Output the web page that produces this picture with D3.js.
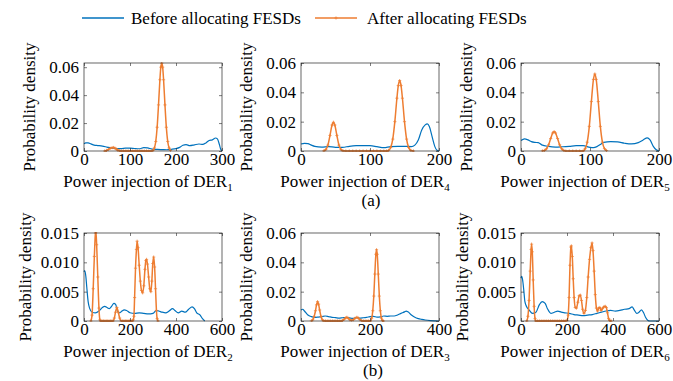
<!DOCTYPE html>
<html lang="en">
<head>
<meta charset="UTF-8">
<title>FESD density</title>
<script src="https://cdn.jsdelivr.net/npm/d3@7"></script>
<style>
body{margin:0;background:#fff;}
svg text{font-family:"Liberation Serif","Times New Roman",serif;}
</style>
</head>
<body>
<div id="root"></div>
<script>
// ---- data: [power injection, probability density] ----
let before1=[[0,0.0052],[4,0.0058],[9,0.0058],[15,0.0051],[22,0.0042],[30,0.0039],[40,0.0035],[50,0.0028],[60,0.0021],[70,0.0017],[80,0.0017],[90,0.0020],[100,0.0021],[110,0.0018],[120,0.0016],[130,0.0024],[138,0.0022],[148,0.0014],[160,0.0011],[170,0.0010],[180,0.0009],[190,0.0012],[200,0.0017],[208,0.0026],[215,0.0041],[222,0.0046],[230,0.0038],[240,0.0044],[250,0.0050],[258,0.0047],[265,0.0058],[272,0.0075],[279,0.0080],[286,0.0093],[290,0.0087],[294,0.0050],[297,0.0015],[300,0]]
let after1=[[45,0],[49,0.0004],[53,0.0011],[57,0.0019],[61,0.0024],[64,0.0025],[67,0.0021],[70,0.0014],[73,0.0007],[77,0.0002],[81,0],[86,0],[91,0],[96,0],[101,0],[106,0],[111,0],[116,0],[121,0],[126,0],[131,0],[136,0],[141,0],[146,0],[150,0.0005],[153,0.0022],[156,0.0068],[159,0.0170],[162,0.0330],[165,0.0510],[167,0.0600],[169,0.0628],[171,0.0600],[173,0.0510],[176,0.0330],[179,0.0170],[182,0.0068],[185,0.0022],[188,0.0005]]

let before4=[[0,0.0048],[5,0.0052],[10,0.0050],[15,0.0040],[20,0.0032],[30,0.0027],[40,0.0030],[50,0.0025],[60,0.0025],[70,0.0032],[80,0.0036],[90,0.0037],[100,0.0036],[110,0.0030],[120,0.0023],[130,0.0030],[140,0.0032],[150,0.0032],[160,0.0030],[165,0.0040],[170,0.0075],[175,0.0144],[180,0.0178],[183,0.0185],[186,0.0167],[190,0.0098],[194,0.0030],[197,0.0005],[200,0]]
let after4=[[33,0.0001],[36,0.0010],[39,0.0040],[42,0.0106],[45,0.0177],[47,0.0196],[49,0.0177],[52,0.0106],[55,0.0040],[58,0.0010],[61,0.0001],[65,0],[70,0],[75,0],[80,0],[85,0],[90,0],[95,0],[100,0],[105,0],[110,0],[115,0],[120,0],[124,0],[127,0.0005],[130,0.0024],[133,0.0081],[136,0.0200],[139,0.0360],[141,0.0446],[143,0.0480],[145,0.0446],[147,0.0360],[150,0.0200],[153,0.0081],[156,0.0024],[159,0.0005],[163,0]]

let before5=[[0,0.0071],[5,0.0082],[10,0.0076],[15,0.0064],[20,0.0059],[25,0.0057],[30,0.0042],[40,0.0031],[50,0.0027],[60,0.0029],[70,0.0032],[80,0.0036],[90,0.0036],[100,0.0025],[105,0.0023],[110,0.0030],[115,0.0045],[120,0.0059],[130,0.0064],[140,0.0062],[150,0.0053],[160,0.0048],[170,0.0057],[177,0.0075],[183,0.0090],[187,0.0076],[192,0.0030],[196,0.0008],[200,0]]
let after5=[[31,0.0001],[34,0.0004],[37,0.0015],[40,0.0042],[43,0.0085],[46,0.0123],[48,0.0132],[50,0.0123],[53,0.0085],[56,0.0042],[59,0.0015],[62,0.0004],[65,0],[70,0],[75,0],[80,0],[85,0],[90,0],[93,0.0016],[96,0.0060],[99,0.0168],[102,0.0337],[105,0.0488],[107,0.0525],[109,0.0488],[112,0.0337],[115,0.0168],[118,0.0060],[121,0.0016],[124,0.0003]]

let before2=[[0,0.0084],[3,0.0086],[8,0.0076],[12,0.0058],[18,0.0033],[25,0.0021],[35,0.0015],[50,0.0014],[65,0.0017],[80,0.0023],[90,0.0025],[100,0.0023],[110,0.0021],[120,0.0025],[130,0.0030],[138,0.0028],[145,0.0017],[155,0.0014],[165,0.0017],[175,0.0019],[185,0.0018],[200,0.0014],[220,0.0013],[240,0.0014],[260,0.0013],[280,0.0012],[300,0.0013],[315,0.0018],[325,0.0017],[340,0.0015],[355,0.0014],[370,0.0017],[385,0.0021],[395,0.0018],[410,0.0014],[425,0.0017],[440,0.0015],[455,0.0020],[470,0.0024],[480,0.0021],[490,0.0014],[505,0.0010],[515,0.0004],[525,0]]
let after2=[[30,0],[35,0.0010],[40,0.0055],[45,0.0110],[50,0.0150],[52,0.0152],[55,0.0130],[60,0.0075],[65,0.0022],[69,0.0002],[73,0],[79,0],[85,0],[91,0],[97,0],[103,0],[109,0],[115,0],[121,0],[126,0],[132,0.0005],[137,0.0015],[143,0.0023],[149,0.0015],[155,0.0005],[162,0],[168,0],[174,0],[180,0],[186,0],[192,0],[198,0],[204,0],[210,0],[214,0.0002],[217,0.0008],[220,0.0040],[224,0.0090],[228,0.0122],[231,0.0136],[235,0.0125],[240,0.0095],[245,0.0068],[250,0.0052],[255,0.0048],[260,0.0060],[265,0.0088],[269,0.0103],[272,0.0105],[276,0.0097],[281,0.0075],[286,0.0055],[291,0.0050],[295,0.0068],[299,0.0098],[303,0.0109],[307,0.0092],[311,0.0055],[315,0.0018],[318,0.0004],[322,0]]

let before3=[[0,0.0075],[5,0.0080],[10,0.0068],[20,0.0041],[30,0.0030],[40,0.0025],[50,0.0027],[60,0.0030],[70,0.0034],[80,0.0030],[90,0.0025],[100,0.0023],[110,0.0020],[120,0.0022],[130,0.0024],[140,0.0021],[150,0.0018],[160,0.0022],[170,0.0020],[180,0.0022],[190,0.0025],[200,0.0030],[210,0.0032],[220,0.0026],[230,0.0028],[240,0.0034],[250,0.0032],[260,0.0034],[270,0.0034],[280,0.0041],[290,0.0052],[300,0.0062],[305,0.0068],[310,0.0063],[320,0.0041],[330,0.0025],[340,0.0016],[350,0.0011],[360,0.0007],[375,0.0003],[390,0.0001],[400,0]]
let after3=[[30,0.0001],[34,0.0008],[38,0.0030],[42,0.0070],[45,0.0110],[48,0.0132],[51,0.0115],[54,0.0075],[58,0.0030],[62,0.0008],[66,0.0001],[71,0],[76,0],[81,0],[86,0],[91,0],[96,0],[101,0],[106,0],[111,0],[116,0],[120,0.0003],[125,0.0012],[130,0.0022],[133,0.0025],[137,0.0018],[142,0.0008],[147,0.0005],[152,0.0009],[157,0.0019],[162,0.0025],[166,0.0020],[171,0.0009],[176,0.0002],[181,0],[186,0],[191,0],[196,0],[201,0],[205,0.0020],[208,0.0070],[211,0.0170],[214,0.0320],[217,0.0455],[219,0.0486],[221,0.0455],[224,0.0320],[227,0.0170],[230,0.0070],[233,0.0020],[236,0.0004],[239,0]]

let before6=[[0,0.0073],[3,0.0076],[7,0.0070],[12,0.0053],[17,0.0033],[25,0.0024],[35,0.0019],[50,0.0013],[65,0.0015],[80,0.0028],[92,0.0033],[105,0.0030],[115,0.0021],[130,0.0013],[145,0.0015],[160,0.0017],[175,0.0015],[190,0.0014],[210,0.0013],[230,0.0011],[250,0.0010],[270,0.0009],[290,0.0010],[310,0.0011],[330,0.0013],[350,0.0015],[370,0.0017],[390,0.0018],[410,0.0017],[430,0.0018],[450,0.0020],[470,0.0021],[483,0.0024],[492,0.0019],[503,0.0013],[513,0.0015],[524,0.0019],[533,0.0014],[542,0.0006],[552,0.0001],[560,0],[580,0],[600,0]]
let after6=[[25,0],[30,0.0008],[35,0.0035],[40,0.0085],[44,0.0122],[46,0.0131],[49,0.0118],[53,0.0070],[57,0.0025],[61,0.0004],[64,0],[72,0],[80,0],[88,0],[96,0],[104,0],[112,0],[120,0],[128,0],[136,0],[144,0],[152,0],[160,0],[168,0],[176,0],[184,0],[192,0],[200,0.0001],[205,0.0010],[209,0.0040],[213,0.0095],[217,0.0126],[219,0.0128],[223,0.0110],[227,0.0072],[231,0.0040],[236,0.0023],[241,0.0022],[247,0.0032],[253,0.0043],[258,0.0044],[263,0.0035],[268,0.0020],[274,0.0013],[280,0.0018],[286,0.0040],[292,0.0075],[298,0.0105],[304,0.0125],[309,0.0133],[313,0.0120],[318,0.0085],[323,0.0045],[328,0.0022],[333,0.0017],[338,0.0022],[343,0.0023],[348,0.0018],[354,0.0021],[360,0.0024],[366,0.0025],[371,0.0023],[376,0.0014],[381,0.0004],[386,0.0001],[392,0]]

// ticks
let ticksX300=[0,100,200,300], ticksX200=[0,100,200], ticksX400=[0,200,400], ticksX600=[0,200,400,600]
let ticksY06=[0,0.02,0.04,0.06], labelsY06=["0","0.02","0.04","0.06"]
let ticksY015=[0,0.005,0.01,0.015], labelsY015=["0","0.005","0.010","0.015"]
let derIndex=["1","4","5","2","3","6"]
let legendNames=["Before allocating FESDs","After allocating FESDs"]

// ---- layout ----
let width=673,height=381,pw=138,ph=88
let colX=[84,301,521],rowY=[63,233]
let blue="#0072BD",orange="#EE7D31",axisColor="#262626"

let svg=d3.select("#root").append("svg").attr("width",width).attr("height",height)

let panels=[
  {col:0,row:0,xMax:300,xTicks:ticksX300,yMax:0.063,yTicks:ticksY06,yLabels:labelsY06,before:before1,after:after1},
  {col:1,row:0,xMax:200,xTicks:ticksX200,yMax:0.06,yTicks:ticksY06,yLabels:labelsY06,before:before4,after:after4},
  {col:2,row:0,xMax:200,xTicks:ticksX200,yMax:0.06,yTicks:ticksY06,yLabels:labelsY06,before:before5,after:after5},
  {col:0,row:1,xMax:600,xTicks:ticksX600,yMax:0.015,yTicks:ticksY015,yLabels:labelsY015,before:before2,after:after2},
  {col:1,row:1,xMax:400,xTicks:ticksX400,yMax:0.06,yTicks:ticksY06,yLabels:labelsY06,before:before3,after:after3},
  {col:2,row:1,xMax:600,xTicks:ticksX600,yMax:0.015,yTicks:ticksY015,yLabels:labelsY015,before:before6,after:after6}
]

function styleAxis(sel){
  sel.attr("font-family",null).attr("font-size",null)
  sel.select(".domain").remove()
  sel.selectAll("line").attr("stroke",axisColor).attr("stroke-width",0.6)
  sel.selectAll("text").attr("fill","#000").style("font-size","17px")
}

function drawPanel(p,i){
  let g=svg.append("g").attr("transform","translate("+colX[p.col]+","+rowY[p.row]+")")
  let x=d3.scaleLinear().domain([0,p.xMax]).range([0,pw])
  let y=d3.scaleLinear().domain([0,p.yMax]).range([ph,0])

  g.append("clipPath").attr("id","clip"+i).append("rect").attr("x",-1).attr("y",-1).attr("width",pw+2).attr("height",ph+2)

  let line=d3.line().x(d=>x(d[0])).y(d=>y(d[1])).curve(d3.curveMonotoneX)
  let plot=g.append("g").attr("clip-path","url(#clip"+i+")")
  plot.append("path").datum(p.before).attr("d",line).attr("fill","none").attr("stroke",blue).attr("stroke-width",1.2)
  plot.append("path").datum(p.after).attr("d",line).attr("fill","none").attr("stroke",orange).attr("stroke-width",1.5)
  plot.selectAll(".mk").data(p.after).enter().append("path").attr("class","mk")
    .attr("transform",d=>"translate("+x(d[0])+","+y(d[1])+")")
    .attr("d","M-1.6,0H1.6M0,-1.6V1.6").attr("stroke",orange).attr("stroke-width",0.7)

  // box axes with inward ticks
  g.append("g").attr("transform","translate(0,"+ph+")")
    .call(d3.axisBottom(x).tickValues(p.xTicks).tickSize(-3).tickSizeOuter(0).tickPadding(1.5).tickFormat(d3.format("d"))).call(styleAxis)
  g.append("g").call(d3.axisTop(x).tickValues(p.xTicks).tickSize(-3).tickSizeOuter(0).tickFormat("")).call(styleAxis)
  g.append("g").call(d3.axisLeft(y).tickValues(p.yTicks).tickSize(-3).tickSizeOuter(0).tickPadding(5).tickFormat((d,k)=>p.yLabels[k])).call(styleAxis)
  g.append("g").attr("transform","translate("+pw+",0)")
    .call(d3.axisRight(y).tickValues(p.yTicks).tickSize(-3).tickSizeOuter(0).tickFormat("")).call(styleAxis)
  g.append("rect").attr("width",pw).attr("height",ph).attr("fill","none").attr("stroke",axisColor).attr("stroke-width",0.7)

  // axis titles
  let xt=g.append("text").attr("x",pw/2-5).attr("y",ph+36).attr("text-anchor","middle").style("font-size","17px")
  xt.append("tspan").text("Power injection of DER")
  xt.append("tspan").attr("dy",4).style("font-size","11px").text(derIndex[i])

  let yOff=p.yMax<0.02?-59:-55
  g.append("text").attr("transform","translate("+yOff+","+(ph/2)+") rotate(-90)")
    .attr("text-anchor","middle").attr("dy","0.33em").style("font-size","17px").text("Probability density")
}

panels.forEach(drawPanel)

// sub-figure captions
svg.append("text").attr("x",371).attr("y",206).attr("text-anchor","middle").style("font-size","17px").text("(a)")
svg.append("text").attr("x",373).attr("y",376).attr("text-anchor","middle").style("font-size","17px").text("(b)")

// legend
let lg=svg.append("g")
lg.append("line").attr("x1",82).attr("x2",124).attr("y1",18).attr("y2",18).attr("stroke",blue).attr("stroke-width",1.5)
lg.append("text").attr("x",131).attr("y",24).style("font-size","17px").text(legendNames[0])
lg.append("line").attr("x1",315).attr("x2",357).attr("y1",18).attr("y2",18).attr("stroke",orange).attr("stroke-width",1.5)
lg.append("path").attr("transform","translate(336,18)").attr("d","M-1.6,0H1.6M0,-1.6V1.6").attr("stroke",orange).attr("stroke-width",0.7)
lg.append("text").attr("x",367).attr("y",24).style("font-size","17px").text(legendNames[1])
</script>
</body>
</html>
